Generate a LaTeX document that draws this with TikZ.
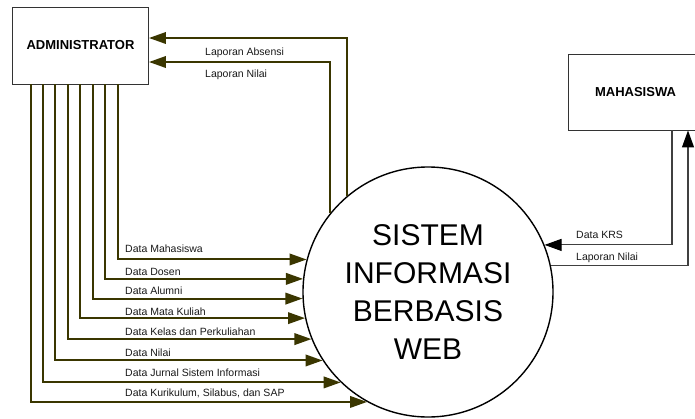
\documentclass[tikz,border=0pt]{standalone}
\usepackage{fontspec}
\setmainfont{Liberation Sans}
\usetikzlibrary{arrows.meta}
\definecolor{zaitun}{RGB}{58,54,0}

\begin{document}
\begin{tikzpicture}[x=1pt, y=-1pt,
        box/.style = {draw=black!80, line width=0.9pt, font=\fontsize{13}{15}\selectfont\bfseries},
        flow/.style = {draw=zaitun, line width=2pt, -{Triangle[length=17pt,width=11.5pt]}},
        back/.style = {draw=black!75, line width=1.1pt, -{Triangle[length=17pt,width=12pt,color=black]}},
        lbl/.style = {anchor=base west, inner sep=0pt, text=black!90, font=\fontsize{10.5}{12}\selectfont}]
        \useasboundingbox (0,0) rectangle (695,418);

        \node[box, minimum width=136pt, minimum height=77pt] (adm) at (80.5,45.5) {ADMINISTRATOR};
        \node[box, minimum width=135pt, minimum height=76pt] (mhs) at (635.5,92) {MAHASISWA};
        \node[draw, circle, line width=1.4pt, minimum size=250pt, align=center,
              font=\fontsize{30}{37.7}\selectfont] (sis) at (428,292) {SISTEM\\INFORMASI\\BERBASIS\\WEB};

        % laporan ke administrator
        \draw[flow] (sis.130.39) |- ([yshift=7.5pt]adm.east);
        \draw[flow] (sis.141.63) |- ([yshift=-16.5pt]adm.east);
        \node[lbl] (la) at (205,55.5) {Laporan Absensi};
        \node[lbl] (ln) at (205,77) {Laporan Nilai};

        % data dari administrator
        \draw[flow] ([xshift=37pt]adm.south) |- (sis.165.17);
        \draw[flow] ([xshift=24.5pt]adm.south) |- (sis.174.49);
        \draw[flow] ([xshift=12pt]adm.south) |- (sis.183.67);
        \draw[flow] ([xshift=-0.5pt]adm.south) |- (sis.192.94);
        \draw[flow] ([xshift=-13pt]adm.south) |- (sis.202.58);
        \draw[flow] ([xshift=-25.5pt]adm.south) |- (sis.213.50);
        \draw[flow] ([xshift=-38pt]adm.south) |- (sis.226.05);
        \draw[flow] ([xshift=-50pt]adm.south) |- (sis.241.64);
        \node[lbl] (d1) at (125,252.5) {Data Mahasiswa};
        \node[lbl] (d2) at (125,275) {Data Dosen};
        \node[lbl] (d3) at (125,294) {Data Alumni};
        \node[lbl] (d4) at (125,315) {Data Mata Kuliah};
        \node[lbl] (d5) at (125,335.5) {Data Kelas dan Perkuliahan};
        \node[lbl] (d6) at (125,356) {Data Nilai};
        \node[lbl] (d7) at (125,376) {Data Jurnal Sistem Informasi};
        \node[lbl] (d8) at (125,396) {Data Kurikulum, Silabus, dan SAP};

        % mahasiswa
        \draw[back] ([xshift=36.5pt]mhs.south) |- (sis.22.58);
        \draw[back] (sis.12.46) -| ([xshift=52.5pt]mhs.south);
        \node[lbl] (krs) at (576,238.7) {Data KRS};
        \node[lbl] (lnm) at (576,260.7) {Laporan Nilai};

    \end{tikzpicture}
\end{document}
